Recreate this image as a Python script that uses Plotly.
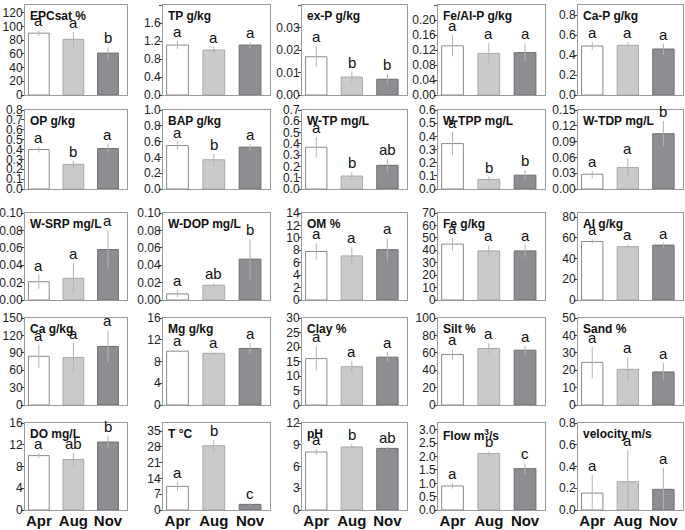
import plotly.graph_objects as go

months = ["Apr", "Aug", "Nov"]
panels = ["EPCsat %", "TP g/kg", "ex-P g/kg", "Fe/Al-P g/kg", "Ca-P g/kg",
          "OP g/kg", "BAP g/kg", "W-TP mg/L", "W-TPP mg/L", "W-TDP mg/L",
          "W-SRP mg/L", "W-DOP mg/L", "OM %", "Fe g/kg", "Al g/kg",
          "Ca g/kg", "Mg g/kg", "Clay %", "Silt %", "Sand %",
          "DO mg/L", "T \u00b0C", "pH", "Flow m<sup>3</sup>/s", "velocity m/s"]

apr_mean = [90, 1.11, 0.017, 0.131, 0.49,
            0.40, 0.55, 0.37, 0.345, 0.028,
            0.021, 0.007, 7.8, 45, 56.5,
            84, 9.9, 16, 58, 24.5,
            10, 10.5, 8.0, 0.9, 0.155]
aug_mean = [81, 1.0, 0.008, 0.111, 0.497,
            0.25, 0.37, 0.115, 0.073, 0.041,
            0.025, 0.017, 7.1, 39.5, 51.5,
            82, 9.5, 13.2, 65, 20.5,
            9.3, 28.5, 8.7, 2.12, 0.26]
nov_mean = [61, 1.11, 0.007, 0.113, 0.46,
            0.41, 0.53, 0.21, 0.105, 0.105,
            0.058, 0.047, 8.1, 39.5, 53,
            101, 10.4, 16.5, 63, 19,
            12.5, 2.5, 8.5, 1.55, 0.19]

apr_err = [4, 0.09, 0.0046, 0.028, 0.038,
           0.03, 0.05, 0.09, 0.09, 0.007,
           0.008, 0.004, 1.3, 5, 2,
           20, 0.2, 4.2, 6, 9,
           0.5, 2, 0.4, 0.1, 0.17]
aug_err = [11, 0.07, 0.0024, 0.027, 0.033,
           0.035, 0.07, 0.035, 0.02, 0.018,
           0.017, 0.002, 1.5, 4.5, 2.5,
           25, 0.2, 2, 6, 7,
           1.2, 2.5, 0.4, 0.08, 0.29]
nov_err = [8.5, 0.07, 0.0022, 0.025, 0.055,
           0.045, 0.04, 0.06, 0.04, 0.024,
           0.022, 0.023, 1.8, 5, 2.5,
           28, 1.0, 1.7, 5, 5,
           1.2, 0.5, 0.2, 0.2, 0.2]

apr_letter = ["a", "a", "a", "a", "a", "a", "a", "a", "a", "a", "a", "a", "a",
              "a", "a", "a", "a", "a", "a", "a", "a", "a", "a", "a", "a"]
aug_letter = ["a", "a", "b", "a", "a", "b", "b", "b", "b", "a", "a", "ab", "a",
              "a", "a", "a", "a", "a", "a", "a", "ab", "b", "b", "b", "a"]
nov_letter = ["b", "a", "b", "a", "a", "a", "a", "ab", "b", "b", "a", "b", "a",
              "a", "a", "a", "a", "a", "a", "a", "b", "c", "ab", "c", "a"]

axis_max = [131, 2.0, 0.04, 0.24, 0.9,
            0.8, 1.0, 0.7, 0.6, 0.15,
            0.10, 0.10, 14, 70, 84,
            150, 16, 30, 100, 50,
            16, 38.6, 12, 3.26, 0.8]
axis_step = [20, 0.4, 0.01, 0.04, 0.2,
             0.1, 0.2, 0.1, 0.1, 0.03,
             0.02, 0.02, 2, 10, 20,
             30, 4, 5, 20, 10,
             4, 7, 3, 0.5, 0.2]
axis_fmt = [".0f", ".1f", ".2f", ".2f", ".1f",
            ".1f", ".1f", ".1f", ".1f", ".2f",
            ".2f", ".2f", ".0f", ".0f", ".0f",
            ".0f", ".0f", ".0f", ".0f", ".0f",
            ".0f", ".0f", ".0f", ".1f", ".1f"]

W, H = 685, 530
col_px = [(25, 127), (163, 270), (302, 407), (438, 545), (578, 683)]
row_px = [(5, 95), (110, 189), (213, 300), (318, 405), (423, 510)]

fill = ["#ffffff", "#c9cacc", "#8e8e92"]
edge = ["#8a8a8a", "#a8a8a8", "#6e6e70"]
FONT = "Liberation Sans, Arial, sans-serif"

fig = go.Figure()
annotations = []
layout = dict(width=W, height=H, margin=dict(l=0, r=0, t=0, b=0, autoexpand=False),
              paper_bgcolor="white", plot_bgcolor="white", showlegend=False,
              font=dict(family=FONT, color="#222"))

for i in range(25):
    r, c = divmod(i, 5)
    n = i + 1
    xa = "x" if n == 1 else f"x{n}"
    ya = "y" if n == 1 else f"y{n}"
    means = [apr_mean[i], aug_mean[i], nov_mean[i]]
    errs = [apr_err[i], aug_err[i], nov_err[i]]
    lets = [apr_letter[i], aug_letter[i], nov_letter[i]]
    fig.add_trace(go.Bar(
        x=[0, 1, 2], y=means, width=0.6,
        marker=dict(color=fill, line=dict(color=edge, width=1)),
        error_y=dict(type="data", array=errs, visible=True,
                     color="#b4b4b4", thickness=1, width=0),
        xaxis=xa, yaxis=ya, hoverinfo="skip"))
    x0, x1 = col_px[c]
    t0, b0 = row_px[r]
    layout["xaxis" if n == 1 else f"xaxis{n}"] = dict(
        domain=[x0 / W, x1 / W], anchor=ya, range=[-0.4, 2.55],
        tickvals=[0, 1, 2], ticktext=["<b>" + m + "</b>" for m in months],
        showticklabels=(r == 4), ticklabelstandoff=-3,
        ticks="", showline=True, mirror=True, linecolor="#9a9a9a",
        linewidth=1, showgrid=False, zeroline=False, fixedrange=True,
        automargin=False,
        tickfont=dict(family=FONT, size=15, color="#111"))
    layout["yaxis" if n == 1 else f"yaxis{n}"] = dict(
        domain=[1 - b0 / H, 1 - t0 / H], anchor=xa,
        range=[0, axis_max[i]], tick0=0, dtick=axis_step[i],
        tickformat=axis_fmt[i], ticks="outside", ticklen=3,
        ticklabelstandoff=-4,
        tickcolor="#444", showline=True, mirror=True, linecolor="#9a9a9a",
        linewidth=1, showgrid=False, zeroline=False, fixedrange=True,
        automargin=False,
        tickfont=dict(family=FONT, size=12, color="#222"))
    annotations.append(dict(
        text="<b>" + panels[i] + "</b>", xref=f"{xa} domain", yref=f"{ya} domain",
        x=0.03, y=1, xanchor="left", yanchor="top", yshift=-2, showarrow=False,
        font=dict(family=FONT, size=12, color="#111")))
    for k in range(3):
        annotations.append(dict(
            text=lets[k], xref=xa, yref=ya, x=k, y=means[k] + errs[k],
            xanchor="center", yanchor="bottom", yshift=-1, showarrow=False,
            font=dict(family=FONT, size=15, color="#111")))

layout["annotations"] = annotations
fig.update_layout(**layout)
fig.write_html("out.html", config={"displayModeBar": False},
               post_script="document.body.style.margin='0px';document.body.style.padding='0px';")
